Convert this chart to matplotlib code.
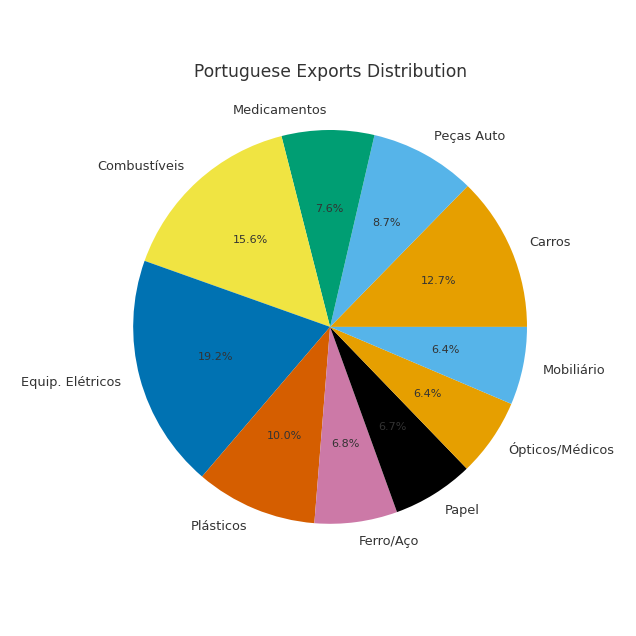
import matplotlib
matplotlib.use("Agg")
import matplotlib.pyplot as plt

categories = ["Carros", "Peças Auto", "Medicamentos", "Combustíveis", "Equip. Elétricos",
              "Plásticos", "Ferro/Aço", "Papel", "Ópticos/Médicos", "Mobiliário"]
shares = [12.7, 8.7, 7.6, 15.6, 19.2, 10.0, 6.8, 6.7, 6.4, 6.4]
colors = ["#E69F00", "#56B4E9", "#009E73", "#F0E442", "#0072B2",
          "#D55E00", "#CC79A7", "#000000", "#E69F00", "#56B4E9"]

TEXT = "#333333"

fig = plt.figure(figsize=(6.36, 6.36), dpi=100)
ax = fig.add_axes([0.132, 0.099, 0.774, 0.774])
wedges, texts, autotexts = ax.pie(shares, labels=categories, colors=colors,
                                  autopct="%1.1f%%", startangle=0,
                                  textprops={"color": TEXT})
for t in texts:
    t.set_fontsize(9.3)
for t in autotexts:
    t.set_fontsize(8)
ax.set_title("Portuguese Exports Distribution", fontsize=12.3, color=TEXT, pad=3)
fig.savefig("out.png", dpi=100)
